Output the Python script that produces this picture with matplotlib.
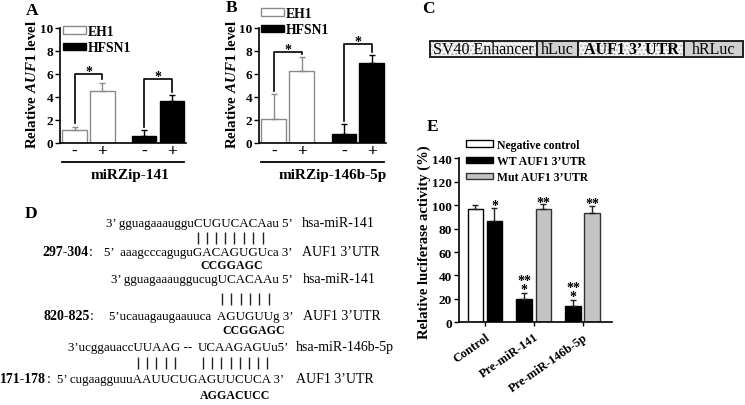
import matplotlib
matplotlib.use("Agg")
import matplotlib.pyplot as plt
import numpy as np
from matplotlib.patches import Rectangle
from matplotlib.font_manager import FontProperties

# -------------------------
# Data
# -------------------------
# A / B : relative AUF1 level, order = EH1 -, EH1 +, HFSN1 -, HFSN1 +
ab_ticklabels = ["-", "+", "-", "+"]
ab_series = ["EH1", "HFSN1"]
mirzip141_mean = [1.12, 4.5, 0.58, 3.65]
mirzip141_err = [0.28, 0.72, 0.54, 0.49]
mirzip146_mean = [2.07, 6.23, 0.78, 6.95]
mirzip146_err = [2.13, 1.2, 0.86, 0.65]

# E : relative luciferase activity (%)
e_groups = ["Control", "Pre-miR-141", "Pre-miR-146b-5p"]
e_series = ["Negative control", "WT AUF1 3’UTR", "Mut AUF1 3’UTR"]
nc_mean = [96.8]
nc_err = [3.2]
wt_mean = [86.8, 19.9, 14.2]
wt_err = [10.5, 5.1, 4.8]
mut_mean = [96.8, 93.3]
mut_err = [4.2, 6.3]

# C : construct
construct_parts = ["SV40 Enhancer", "hLuc", "AUF1 3’ UTR", "hRLuc"]

# D : seed pairing
site_labels = ["297-304", "820-825", "171-178"]
utr_seqs = ["5’  aaagcccaguguGACAGUGUca 3’",
            "5’ucauagaugaauuca  AGUGUUg 3’",
            "5’ cugaagguuuAAUUCUGAGUUCUCA 3’"]
# miRNA strand, split where the alignment has a gap
mir_pieces = [["3’ gguagaaaugguCUGUCACAau 5’"],
              ["3’ gguagaaauggucugUCACAAu 5’"],
              ["3’ucggauaccUUAAG --", "UCAAGAGUu5’"]]
mir_seed = [["CUGUCACA"], ["UCACAA"], ["UUAAG", "UCAAGAGU"]]
utr_seed = [["GACAGUGU"], ["AGUGUU"], ["AAUUC", "AGUUCUCA"]]
mir_names = ["hsa-miR-141", "hsa-miR-141", "hsa-miR-146b-5p"]
mut_seqs = ["CCGGAGC", "CCGGAGC", "AGGACUCC"]

# -------------------------
# Style
# -------------------------
plt.rcParams.update({
    "font.family": "Liberation Serif",
    "font.weight": "bold",
    "axes.labelweight": "bold",
    "mathtext.fontset": "custom",
    "mathtext.rm": "Liberation Serif:bold",
    "mathtext.it": "Liberation Serif:italic:bold",
    "mathtext.bf": "Liberation Serif:bold",
    "axes.linewidth": 1.2,
    "xtick.major.width": 1.0,
    "ytick.major.width": 1.0,
    "ytick.major.size": 3.5,
    "xtick.major.size": 3,
})

W, H = 745, 406
fig = plt.figure(figsize=(W / 100, H / 100), dpi=100)
renderer = fig.canvas.get_renderer()


def px_axes(l, t, r, b):
    return fig.add_axes([l / W, 1 - b / H, (r - l) / W, (b - t) / H])


def tw(s, size, weight="normal"):
    # advance width of a string in pixels
    fp = FontProperties(family="Liberation Serif", size=size, weight=weight)
    w1 = renderer.get_text_width_height_descent("I" + s + "I", fp, ismath=False)[0]
    w0 = renderer.get_text_width_height_descent("II", fp, ismath=False)[0]
    return w1 - w0


def char_center(x0, s, i, size):
    return x0 + (tw(s[:i], size) + tw(s[:i + 1], size)) / 2


def star(ax, x, yc, s, size=10):
    # yc = centre of the lowest row of asterisks
    ax.annotate(s, (x, yc), xytext=(0, -0.72 * size), textcoords="offset points",
                ha="center", va="bottom", fontsize=size, fontweight="bold",
                linespacing=0.6, multialignment="center")


# overlay in pixel coords for panel letters, construct and sequences
ov = fig.add_axes([0, 0, 1, 1])
ov.set_xlim(0, W)
ov.set_ylim(H, 0)
ov.axis("off")

for letter, (x, y) in zip("ABCDE", [(32, 11), (232, 8), (428, 9), (31, 214), (433, 127)]):
    ov.text(x, y, letter, fontsize=12.5, fontweight="bold", ha="center", va="center")


def style_spines(ax):
    ax.spines["top"].set_visible(False)
    ax.spines["right"].set_visible(False)
    ax.tick_params(axis="y", labelsize=9.5, pad=1.5)


# -------------------------
# A / B
# -------------------------
ab_x = np.array([0, 1.13, 2.84, 3.97])
ab_face = ["white", "white", "black", "black"]
ab_edge = ["#8a8a8a", "#8a8a8a", "black", "black"]


def ab_panel(ax, mean, err, bracket_h, group_label, label_x, group_x, legend_xy):
    style_spines(ax)
    bars = ax.bar(ab_x, mean, width=1.0, color=ab_face, edgecolor=ab_edge, linewidth=1.0, zorder=2)
    for xi, m, e, ec in zip(ab_x, mean, err, ab_edge):
        ax.errorbar(xi, m, yerr=[[0], [e]], fmt="none", ecolor=ec, elinewidth=1.0,
                    capsize=2.5, capthick=1.0, zorder=3)
    tops = np.array(mean) + np.array(err)
    for k, h in enumerate(bracket_h):
        i0, i1 = 2 * k, 2 * k + 1
        ax.plot([ab_x[i0], ab_x[i0], ab_x[i1], ab_x[i1]],
                [tops[i0] + 0.3, h, h, tops[i1] + 0.3], color="black", lw=1.2, zorder=4)
        star(ax, (ab_x[i0] + ab_x[i1]) / 2, h + 0.58, "*")
    ax.set_xlim(-0.6, 4.55)
    ax.set_ylim(0, 10)
    ax.set_yticks([0, 2, 4, 6, 8, 10])
    ax.set_xticks(ab_x)
    ax.set_xticklabels(ab_ticklabels, fontsize=12.5)
    ax.tick_params(axis="x", length=0, pad=0)
    ax.set_ylabel(r"Relative $\mathit{AUF1}$ level", fontsize=10.8, va="center")
    ax.yaxis.set_label_coords(label_x, 0.52)
    ax.plot([-0.5, 4.47], [-0.165, -0.165], transform=ax.get_xaxis_transform(),
            color="black", lw=1.3, clip_on=False)
    ax.text(group_x, -0.27, group_label, transform=ax.get_xaxis_transform(),
            fontsize=11, ha="center", va="center")
    ax.legend([bars[0], bars[2]], ab_series, loc="upper left",
              bbox_to_anchor=(legend_xy[0] / W, 1 - legend_xy[1] / H),
              bbox_transform=fig.transFigure, frameon=False, fontsize=9.8,
              handlelength=1.7, handleheight=0.5, handletextpad=0.1,
              labelspacing=0.25, borderpad=0, borderaxespad=0)


axA = px_axes(60, 28.5, 186, 144)
ab_panel(axA, mirzip141_mean, mirzip141_err, [5.95, 5.5], "miRZip-141", -0.224, 2.25, (63, 26))
axB = px_axes(259, 28.5, 386, 144)
ab_panel(axB, mirzip146_mean, mirzip146_err, [7.85, 8.55], "miRZip-146b-5p", -0.214, 2.38, (261, 8))

# -------------------------
# C : construct diagram
# -------------------------
edges = [430, 537, 578, 684, 743]
fills = ["dots", "#d0d0d0", "dots", "#d0d0d0"]
weights = ["normal", "normal", "bold", "normal"]
for i, part in enumerate(construct_parts):
    x0, x1 = edges[i], edges[i + 1]
    if fills[i] == "dots":
        ov.add_patch(Rectangle((x0, 42), x1 - x0, 16, facecolor="#f4f4f4",
                               edgecolor="#bdbdbd", hatch="....", linewidth=0))
    else:
        ov.add_patch(Rectangle((x0, 42), x1 - x0, 16, facecolor=fills[i], linewidth=0))
    ov.add_patch(Rectangle((x0, 42), x1 - x0, 16, facecolor="none",
                           edgecolor="#202020", linewidth=1.4))
    ov.text((x0 + x1) / 2, 50.5, part, fontsize=11.5, fontweight=weights[i],
            ha="center", va="center")

# -------------------------
# D : sequences
# -------------------------
SEQ = 9.4
rows = [
    dict(mir_y=224, utr_y=253, utr_core=193, site_x=42, name_x=302, mut=(200, 266), bar_y=239),
    dict(mir_y=280, utr_y=317, utr_core=218, site_x=43, name_x=303, mut=(222, 331), bar_y=300),
    dict(mir_y=348, utr_y=380, utr_core=133, site_x=0, name_x=296, mut=(200, 396), bar_y=364),
]
for i, r in enumerate(rows):
    utr = utr_seqs[i]
    first = utr.index(utr_seed[i][0])
    ux0 = r["utr_core"] - tw(utr[:first], SEQ)
    ov.text(ux0, r["utr_y"], utr, fontsize=SEQ, fontweight="normal", ha="left", va="center")
    # pairing bars and miRNA pieces aligned on the UTR letters
    for piece, mseed, useed in zip(mir_pieces[i], mir_seed[i], utr_seed[i]):
        ui = utr.index(useed)
        cx = [char_center(ux0, utr, ui + k, SEQ) for k in range(len(useed))]
        ov.vlines(cx, r["bar_y"] - 6, r["bar_y"] + 6, color="#222222", lw=1.0)
        mi = piece.index(mseed)
        mx0 = cx[0] - (tw(piece[:mi], SEQ) + tw(piece[:mi + 1], SEQ)) / 2
        ov.text(mx0, r["mir_y"], piece, fontsize=SEQ, fontweight="normal", ha="left", va="center")
    ov.text(r["name_x"], r["mir_y"], mir_names[i], fontsize=10, fontweight="normal",
            ha="left", va="center")
    t = ov.text(r["site_x"], r["utr_y"], site_labels[i], fontsize=10, fontweight="bold",
                ha="left", va="center")
    ov.annotate(":", xy=(1, 0.5), xycoords=t, xytext=(0.5, 0), textcoords="offset points",
                fontsize=10, fontweight="normal", ha="left", va="center")
    ov.text(r["name_x"], r["utr_y"], "AUF1 3’UTR", fontsize=10, fontweight="normal",
            ha="left", va="center")
    ov.text(r["mut"][0], r["mut"][1], mut_seqs[i], fontsize=8.6, fontweight="bold",
            ha="left", va="center")

# -------------------------
# E : luciferase
# -------------------------
axE = px_axes(459, 159.3, 612, 323.3)
style_spines(axE)
gx = np.arange(len(e_groups))
off, bw = 0.196, 0.32
b_nc = axE.bar(gx[:1] - off, nc_mean, width=bw, color="white", edgecolor="black", lw=1.0, zorder=2)
b_wt = axE.bar(gx + np.array([off, -off, -off]), wt_mean,
               width=bw, color="black", edgecolor="black", lw=1.0, zorder=2)
b_mut = axE.bar(gx[1:] + off, mut_mean, width=bw, color="#c4c4c4", edgecolor="#333333", lw=1.0, zorder=2)
for bars, errs in [(b_nc, nc_err), (b_wt, wt_err), (b_mut, mut_err)]:
    for b, e in zip(bars, errs):
        xc = b.get_x() + b.get_width() / 2
        axE.errorbar(xc, b.get_height(), yerr=[[0], [e]], fmt="none", ecolor="#222222",
                     elinewidth=1.0, capsize=2.5, capthick=1.0, zorder=3)
# significance marks
wt_x = [b.get_x() + b.get_width() / 2 for b in b_wt]
mut_x = [b.get_x() + b.get_width() / 2 for b in b_mut]
wt_top = np.array(wt_mean) + np.array(wt_err)
mut_top = np.array(mut_mean) + np.array(mut_err)
star(axE, wt_x[0], wt_top[0] + 5.5, "*")
for k in (1, 2):
    star(axE, wt_x[k], wt_top[k] + 6.0, "**\n*")
    star(axE, mut_x[k - 1], mut_top[k - 1] + 4.5, "**")
axE.set_xlim(-0.53, 2.6)
axE.set_ylim(0, 140)
axE.set_yticks(np.arange(0, 141, 20))
axE.set_xticks(gx)
axE.set_xticklabels(e_groups, rotation=35, ha="right", rotation_mode="anchor", fontsize=9)
axE.tick_params(axis="x", pad=3)
axE.set_ylabel("Relative luciferase activity (%)", fontsize=10.5, va="center")
axE.yaxis.set_label_coords((424.5 - 459) / 153, (323.3 - 242.5) / 164)
axE.legend([b_nc[0], b_wt[0], b_mut[0]], e_series, loc="upper left",
           bbox_to_anchor=(466 / W, 1 - 140 / H), bbox_transform=fig.transFigure,
           frameon=False, fontsize=8.5, handlelength=2.3, handleheight=0.5,
           handletextpad=0.3, labelspacing=0.35, borderpad=0, borderaxespad=0)

fig.savefig("out.png", dpi=100)
